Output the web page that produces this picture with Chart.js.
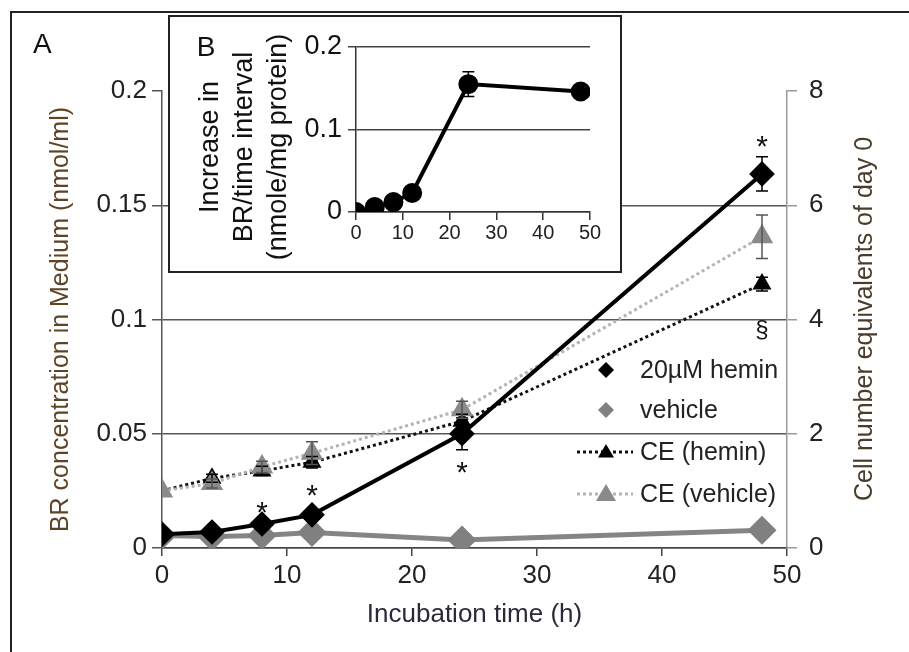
<!DOCTYPE html>
<html>
<head>
<meta charset="utf-8">
<script src="https://cdn.jsdelivr.net/npm/chart.js@4.4.1/dist/chart.umd.min.js"></script>
<style>
html, body { margin: 0; padding: 0; background: #fff; }
#wrap { position: relative; width: 909px; height: 652px; overflow: hidden; }
#main { position: absolute; left: 0; top: 0; }
#frame { position: absolute; left: 10px; top: 11px; width: 905px; height: 650px; border-left: 2px solid #222; border-top: 2px solid #222; pointer-events: none; }
#insetBox { position: absolute; left: 168px; top: 15px; width: 454px; height: 258px; border: 2px solid #222; background: #fff; box-sizing: border-box; }
#inset { position: absolute; left: 0; top: 0; }
</style>
</head>
<body>
<div id="wrap">
  <canvas id="main" width="909" height="652"></canvas>
  <div id="frame"></div>
  <div id="insetBox"><canvas id="inset" width="450" height="254"></canvas></div>
</div>
<script>
// panel A
const hours = [0, 4, 8, 12, 24, 48];
const heminBR = [0.006, 0.007, 0.0105, 0.0145, 0.050, 0.1637];
const heminBRErr = [0, 0.0008, 0.001, 0.0015, 0.007, 0.0075];
const vehicleBR = [0.0055, 0.005, 0.0055, 0.0068, 0.0035, 0.0078];
const ceHemin = [1.0, 1.22, 1.35, 1.5, 2.22, 4.62];
const ceHeminErr = [0, 0.07, 0.08, 0.1, 0.12, 0.12];
const ceVehicle = [1.0, 1.13, 1.42, 1.66, 2.42, 5.45];
const ceVehicleErr = [0, 0.08, 0.1, 0.2, 0.15, 0.38];
const brTicks = [0, 0.05, 0.1, 0.15, 0.2];
const ceTicks = [0, 2, 4, 6, 8];
const stars = [8, 12, 24, 48];

// panel B
const insetHours = [0, 4, 8, 12, 24, 48];
const insetIncrease = [0.0, 0.006, 0.012, 0.023, 0.155, 0.146];
const insetErr = [0, 0, 0, 0, 0.015, 0];

const FONT = "'Liberation Sans', Arial, sans-serif";
const pts = (xs, ys) => xs.map((x, i) => ({x: x, y: ys[i]}));

const errorBars = {
  id: 'errorBars',
  afterDatasetsDraw(chart) {
    const ctx = chart.ctx;
    chart.data.datasets.forEach((ds, di) => {
      if (!ds.errors) return;
      const ys = chart.scales[ds.yAxisID || 'y'];
      const xs = chart.scales.x;
      ctx.save();
      ctx.strokeStyle = ds.errorColor || '#000';
      ctx.lineWidth = 1.5;
      ds.data.forEach((p, i) => {
        const e = ds.errors[i];
        if (!e) return;
        const x = xs.getPixelForValue(p.x);
        const y1 = ys.getPixelForValue(p.y - e);
        const y2 = ys.getPixelForValue(p.y + e);
        ctx.beginPath();
        ctx.moveTo(x, y1); ctx.lineTo(x, y2);
        ctx.moveTo(x - 6, y1); ctx.lineTo(x + 6, y1);
        ctx.moveTo(x - 6, y2); ctx.lineTo(x + 6, y2);
        ctx.stroke();
      });
      ctx.restore();
    });
  }
};

const marks = {
  id: 'marks',
  afterDraw(chart) {
    const ctx = chart.ctx, xs = chart.scales.x, ys = chart.scales.y, y2 = chart.scales.y2;
    ctx.save();
    ctx.fillStyle = '#111';
    ctx.font = '30px ' + FONT;
    ctx.textAlign = 'center';
    ctx.textBaseline = 'middle';
    const off = {8: -10, 12: -18, 24: 40, 48: -26};
    stars.forEach(h => {
      const i = hours.indexOf(h);
      ctx.fillText('*', xs.getPixelForValue(h), ys.getPixelForValue(heminBR[i]) + off[h]);
    });
    ctx.font = '24px ' + FONT;
    ctx.fillText('§', xs.getPixelForValue(48), y2.getPixelForValue(ceHemin[5]) + 46);

    // legend
    const items = [
      {t: '20µM hemin', y: 370, shape: 'diamond', c: '#000', line: null},
      {t: 'vehicle', y: 410, shape: 'diamond', c: '#808080', line: null},
      {t: 'CE (hemin)', y: 452, shape: 'tri', c: '#000', line: '#111'},
      {t: 'CE (vehicle)', y: 494, shape: 'tri', c: '#8a8a8a', line: '#b4b4b4'}
    ];
    items.forEach(it => {
      if (it.line) {
        ctx.save();
        ctx.strokeStyle = it.line; ctx.lineWidth = 3; ctx.setLineDash([3, 3]);
        ctx.beginPath(); ctx.moveTo(577, it.y); ctx.lineTo(633, it.y); ctx.stroke();
        ctx.restore();
      }
      ctx.fillStyle = it.c;
      ctx.beginPath();
      if (it.shape === 'diamond') {
        ctx.moveTo(606, it.y - 8); ctx.lineTo(614, it.y); ctx.lineTo(606, it.y + 8); ctx.lineTo(598, it.y);
      } else {
        const r = it.c === '#000' ? 8 : 10;
        ctx.moveTo(606, it.y - r); ctx.lineTo(606 + r, it.y + r * 0.7); ctx.lineTo(606 - r, it.y + r * 0.7);
      }
      ctx.closePath(); ctx.fill();
      ctx.fillStyle = '#222';
      ctx.font = '25px ' + FONT;
      ctx.textAlign = 'left';
      ctx.fillText(it.t, 640, it.y + 1);
    });

    // A label and right title
    ctx.font = '28px ' + FONT;
    ctx.fillStyle = '#111';
    ctx.fillText('A', 33, 45);
    ctx.translate(865, 319);
    ctx.rotate(-Math.PI / 2);
    ctx.textAlign = 'center';
    ctx.fillStyle = '#4a3c2a';
    ctx.font = '25px ' + FONT;
    ctx.fillText('Cell number equivalents of day 0', 0, 0);
    ctx.restore();
  }
};

new Chart(document.getElementById('main'), {
  type: 'line',
  data: {
    datasets: [
      {label: '20µM hemin', data: pts(hours, heminBR), errors: heminBRErr, yAxisID: 'y',
        borderColor: '#000', borderWidth: 4, pointStyle: 'rectRot', pointRadius: 10,
        pointBackgroundColor: '#000', pointBorderColor: '#000', order: 0},
      {label: 'vehicle', data: pts(hours, vehicleBR), yAxisID: 'y',
        borderColor: '#858585', borderWidth: 5, pointStyle: 'rectRot', pointRadius: 11,
        pointBackgroundColor: '#808080', pointBorderColor: '#808080', order: 1},
      {label: 'CE (hemin)', data: pts(hours, ceHemin), errors: ceHeminErr, yAxisID: 'y2',
        borderColor: '#111', borderWidth: 3, borderDash: [3, 3], pointStyle: 'triangle', pointRadius: 8,
        pointBackgroundColor: '#000', pointBorderColor: '#000', order: 3},
      {label: 'CE (vehicle)', data: pts(hours, ceVehicle), errors: ceVehicleErr, errorColor: '#555', yAxisID: 'y2',
        borderColor: '#b4b4b4', borderWidth: 3, borderDash: [3, 3], pointStyle: 'triangle', pointRadius: 10,
        pointBackgroundColor: '#8a8a8a', pointBorderColor: '#8a8a8a', order: 2}
    ]
  },
  options: {
    responsive: false,
    animation: false,
    layout: {padding: {top: 91, left: 0, right: 0, bottom: 0}},
    plugins: {legend: {display: false}, tooltip: {enabled: false}},
    scales: {
      x: {
        type: 'linear', min: 0, max: 50,
        ticks: {stepSize: 10, color: '#222', font: {family: FONT, size: 26}, padding: 4},
        grid: {drawOnChartArea: false, color: '#444', tickLength: 8, lineWidth: 1.5},
        border: {color: '#444', width: 1.5},
        title: {display: true, text: 'Incubation time (h)', color: '#2a2a3a', font: {family: FONT, size: 26}, padding: {top: 0, bottom: 22}},
        afterFit: s => { s.height = 104; }
      },
      y: {
        position: 'left', min: 0, max: 0.2,
        afterBuildTicks: s => { s.ticks = brTicks.map(v => ({value: v})); },
        ticks: {color: '#222', font: {family: FONT, size: 26}, padding: 5, callback: v => String(+v.toFixed(2))},
        grid: {color: c => c.tick && c.tick.value >= 0.19 ? 'rgba(0,0,0,0)' : '#555', tickColor: '#555', tickLength: 10, lineWidth: 1.5},
        border: {color: '#555', width: 1.5},
        title: {display: true, text: 'BR concentration in Medium (nmol/ml)', color: '#5e4426', font: {family: FONT, size: 25}, padding: {top: 46}},
        afterFit: s => { s.width = 162; }
      },
      y2: {
        position: 'right', min: 0, max: 8,
        afterBuildTicks: s => { s.ticks = ceTicks.map(v => ({value: v})); },
        ticks: {color: '#222', font: {family: FONT, size: 26}, padding: 12},
        grid: {drawOnChartArea: false, color: '#999', tickLength: 10, lineWidth: 1.5},
        border: {color: '#999', width: 1.5},
        afterFit: s => { s.width = 122; }
      }
    }
  },
  plugins: [errorBars, marks]
});

const insetText = {
  id: 'insetText',
  afterDraw(chart) {
    const ctx = chart.ctx;
    ctx.save();
    ctx.fillStyle = '#111';
    ctx.font = '28px ' + FONT;
    ctx.textAlign = 'center';
    ctx.textBaseline = 'middle';
    ctx.fillText('B', 36, 31);
    ctx.translate(0, 130);
    ctx.rotate(-Math.PI / 2);
    ctx.font = '27px ' + FONT;
    ctx.fillText('Increase in', 0, 41);
    ctx.fillText('BR/time interval', 0, 75);
    ctx.fillText('(nmole/mg protein)', 0, 109);
    ctx.restore();
  }
};

new Chart(document.getElementById('inset'), {
  type: 'line',
  data: {
    datasets: [
      {label: 'B', data: pts(insetHours, insetIncrease), errors: insetErr, yAxisID: 'y',
        borderColor: '#000', borderWidth: 4, pointStyle: 'circle', pointRadius: 8,
        pointBackgroundColor: '#000', pointBorderColor: '#000'}
    ]
  },
  options: {
    responsive: false,
    animation: false,
    layout: {padding: {top: 30, right: 30, left: 0, bottom: 0}},
    plugins: {legend: {display: false}, tooltip: {enabled: false}},
    scales: {
      x: {
        type: 'linear', min: 0, max: 50,
        ticks: {stepSize: 10, color: '#222', font: {family: FONT, size: 20}, padding: 1},
        grid: {drawOnChartArea: false, color: '#333', tickLength: 8, lineWidth: 1.5},
        border: {color: '#333', width: 1.5},
        afterFit: s => { s.height = 59; }
      },
      y: {
        min: 0, max: 0.2,
        ticks: {stepSize: 0.1, color: '#111', font: {family: FONT, size: 27}, padding: 6, callback: v => String(+v.toFixed(1))},
        grid: {color: '#444', tickLength: 8, lineWidth: 1.5},
        border: {color: '#333', width: 1.5},
        afterFit: s => { s.width = 186; }
      }
    }
  },
  plugins: [errorBars, insetText]
});
</script>
</body>
</html>
